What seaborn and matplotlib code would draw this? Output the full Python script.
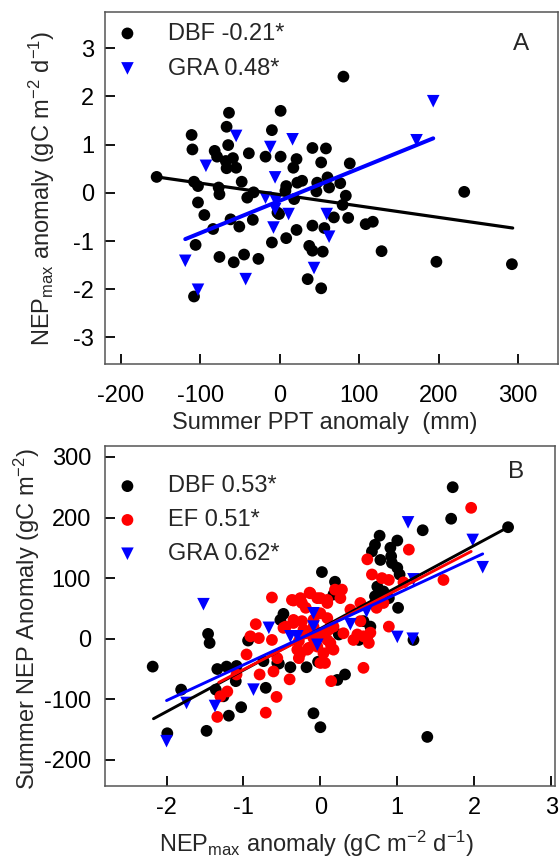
import numpy as np
import pandas as pd
import matplotlib
matplotlib.use("Agg")
import matplotlib.pyplot as plt
import seaborn as sns

# ---------------- Panel A data (Summer PPT anomaly vs NEPmax anomaly) ----------------
a_dbf_ppt = [-64, -67, -111, -110, -65, -82, -79, -68, -59, -67, -55, -39, -155, -108, -103,
             -77, -76, -48, -41, -33, -103, -95, -84, -62, -51, -34, -106, -76, -58, -45,
             -27, -108, 80, 1, -10, -18, 1, 21, 17, 41, 58, 52, 88, 28, 8, 7, 47, 60, 62,
             76, 46, 83, 79, 18, -1, 68, 86, 108, 117, 21, 41, 56, 8, -10, 37, 41, 54, 35,
             52, 128, 232, 197, 292, -3, 22]
a_dbf_nep = [1.66, 1.37, 1.20, 0.90, 0.99, 0.87, 0.75, 0.66, 0.72, 0.51, 0.52, 0.82, 0.33, 0.23,
             0.14, 0.11, -0.03, 0.23, -0.10, 0.01, -0.20, -0.46, -0.75, -0.55, -0.70, -0.56,
             -1.08, -1.33, -1.44, -1.28, -1.37, -2.15, 2.41, 1.70, 1.30, 0.75, 0.75, 0.70, 0.52,
             0.93, 0.92, 0.63, 0.61, 0.25, 0.14, 0.04, 0.21, 0.32, 0.11, 0.20, 0.03, -0.06,
             -0.25, -0.13, -0.44, -0.51, -0.52, -0.65, -0.60, -0.77, -0.68, -0.73, -0.94,
             -1.03, -1.10, -1.20, -1.22, -1.79, -1.98, -1.21, 0.02, -1.43, -1.48, -0.41, 0.21]
a_gra_ppt = [-55, -93, -119, -103, -43, 16, -12, -6, -18, -5, -6, 11, -8, 59, 62, 43, 193, 172]
a_gra_nep = [1.18, 0.56, -1.41, -2.01, -1.79, 1.11, 0.95, 0.32, -0.10, -0.17, -0.34, -0.44,
             -0.72, -0.44, -0.91, -1.56, 1.90, 1.09]
# trend lines
a_fit_dbf_x = [-155, 293]
a_fit_dbf_y = [0.33, -0.73]
a_fit_gra_x = [-119, 193]
a_fit_gra_y = [-0.96, 1.13]
a_xticks = [-200, -100, 0, 100, 200, 300]
a_yticks = [-3, -2, -1, 0, 1, 2, 3]
a_labels = ["DBF -0.21*", "GRA 0.48*"]

# ---------------- Panel B data (NEPmax anomaly vs Summer NEP anomaly) ----------------
b_dbf_x = [0.02, 0.19, -1.46, -1.44, -2.18, -1.81, -1.99, -1.48, -1.34, -1.22, -1.09, -1.10,
           -1.36, -1.19, -1.03, -0.71, -0.48, -0.52, -0.94, -0.56, -0.39, -0.18, -0.09, 0.0,
           0.22, -1.26, -0.74, 1.72, 1.70, 1.33, 2.44, 0.77, 1.00, 0.71, 0.91, 0.67, 0.78,
           0.92, 0.93, 1.00, 1.03, 0.74, 0.82, 0.76, 0.89, 0.71, 1.01, 1.21, 0.56, 0.17,
           -0.03, -0.54, 0.24, 0.24, 0.65, 0.50, 0.61, 0.32, 1.39]
b_dbf_y = [110, 94, 8, -7, -46, -84, -156, -152, -50, -46, -45, -70, -84, -127, -113, -81, 41,
           31, -3, -40, -47, -47, -123, -146, -68, -95, -37, 250, 198, 179, 184, 170, 162, 155,
           150, 144, 130, 136, 125, 117, 106, 86, 78, 75, 67, 70, 51, -2, 29, 73, -38, -41, 7,
           81, 20, -2, 4, -59, -162]
b_ef_x = [-0.63, -0.35, -0.24, -0.14, 0.0, -0.84, -0.91, -0.80, -0.63, -0.48, -0.35, -0.24,
          -0.96, -0.79, -0.61, -0.40, -0.56, -0.28, -0.17, -0.30, 0.0, 0.14, -0.57, -0.71,
          -1.21, -1.30, -1.34, -1.09, 0.13, 0.09, 0.17, -0.09, -0.04, -0.19, 1.96, 1.15, 0.61,
          0.67, 0.80, 0.89, 1.60, 0.28, -0.13, 0.26, 0.09, 0.39, 0.52, 0.73, 0.82, 0.89, 0.52,
          0.65, 0.63, 0.43, 0.17, 0.30, 0.13, -0.09, -0.19, 0.0, -0.37, -0.26, -0.04, 0.09,
          0.19, -0.45, -0.35, -0.22, -0.09, 0.0, 0.11, 0.09, -0.28, -0.26, -0.15, 0.04, 1.08,
          0.48, 0.56, 0.14, 0.06, 0.56]
b_ef_y = [68, 63, 59, 76, 67, 24, 4, 1, -2, 18, 26, 29, -26, -59, -54, -67, -32, -32, -18, -18,
          -40, -70, -96, -122, -87, -95, -129, -59, 20, -2, -18, 1, -13, 9, 216, 147, 131, 106,
          100, 97, 97, 81, 75, 67, 59, 48, 59, 51, 59, 20, 29, 10, -7, -2, 20, 9, -7, 31, 51,
          42, 64, 67, 67, 64, 81, 20, 31, 15, 20, 9, 15, 34, -4, -24, -15, -24, 93, 7, 4, -15,
          -40, -48]
b_gra_x = [-1.52, -0.67, -0.09, -0.09, -0.39, -0.30, -0.04, -0.87, -1.37, -1.74, -2.0, 1.14,
           1.98, 2.11, 1.21, 1.00, 1.20, 0.39, 0.60]
b_gra_y = [57, 18, 42, 20, 4, 4, -10, -84, -111, -106, -169, 192, 163, 118, 98, 3, 0, 24, 45]
b_fit_dbf_x = [-2.17, 2.44]
b_fit_dbf_y = [-132, 184]
b_fit_ef_x = [-1.32, 1.96]
b_fit_ef_y = [-72, 144]
b_fit_gra_x = [-2.0, 2.11]
b_fit_gra_y = [-102, 140]
b_xticks = [-2, -1, 0, 1, 2, 3]
b_yticks = [-200, -100, 0, 100, 200, 300]
b_labels = ["DBF 0.53*", "EF 0.51*", "GRA 0.62*"]

# ---------------- styling ----------------
sns.set_theme(style="ticks")
plt.rcParams["font.family"] = ["Liberation Sans", "DejaVu Sans"]
plt.rcParams["mathtext.fontset"] = "custom"
plt.rcParams["mathtext.rm"] = "Liberation Sans"
plt.rcParams["mathtext.it"] = "Liberation Sans:italic"
plt.rcParams["mathtext.default"] = "regular"
plt.rcParams["axes.unicode_minus"] = False

FS = 17
BLACK, BLUE, RED = "#000000", "#0000FF", "#FF0000"
MS = 72
MT = 82

fig = plt.figure(figsize=(5.6, 8.6), dpi=100)
axA = fig.add_axes([105 / 560, 1 - 364 / 860, 453 / 560, 352 / 860])
axB = fig.add_axes([105 / 560, 1 - 786 / 860, 450 / 560, 340 / 860])


def style_axes(ax, xpad, ypad):
    for s in ax.spines.values():
        s.set_color("#555555")
        s.set_linewidth(1.1)
        s.set_visible(True)
    ax.tick_params(axis="both", direction="in", length=7, width=1.3, color="black",
                   labelsize=FS, top=False, right=False, labelcolor="black")
    ax.tick_params(axis="x", pad=xpad)
    ax.tick_params(axis="y", pad=ypad)
    ax.grid(False)


# ---- Panel A ----
dfa1 = pd.DataFrame({"x": a_dbf_ppt, "y": a_dbf_nep})
dfa2 = pd.DataFrame({"x": a_gra_ppt, "y": a_gra_nep})
sns.scatterplot(data=dfa1, x="x", y="y", ax=axA, color=BLACK, marker="o", s=MS,
                edgecolor="none", label=a_labels[0], zorder=3)
sns.scatterplot(data=dfa2, x="x", y="y", ax=axA, color=BLUE, marker="v", s=MT,
                edgecolor="none", label=a_labels[1], zorder=4)
sns.lineplot(x=a_fit_dbf_x, y=a_fit_dbf_y, ax=axA, color=BLACK, lw=2.3, zorder=5,
             legend=False)
sns.lineplot(x=a_fit_gra_x, y=a_fit_gra_y, ax=axA, color=BLUE, lw=2.9, zorder=6,
             legend=False)
axA.set_xlim(-220, 350)
axA.set_ylim(-3.55, 3.75)
axA.set_xticks(a_xticks)
axA.set_yticks(a_yticks)
style_axes(axA, xpad=15, ypad=8)
axA.set_xlabel("Summer PPT anomaly  (mm)", fontsize=FS)
axA.set_ylabel("NEP$_{max}$ anomaly (gC m$^{-2}$ d$^{-1}$)", fontsize=FS)
axA.xaxis.set_label_coords(0.485, -0.135)
axA.yaxis.set_label_coords(-0.105, 0.5)
axA.text(0.918, 0.91, "A", transform=axA.transAxes, fontsize=FS + 0.5,
         ha="center", va="center")
axA.legend(loc="upper left", frameon=False, fontsize=FS, handlelength=1.0,
           handletextpad=1.2, labelspacing=0.55, borderaxespad=0.1, borderpad=0.35)

# ---- Panel B ----
dfb1 = pd.DataFrame({"x": b_dbf_x, "y": b_dbf_y})
dfb2 = pd.DataFrame({"x": b_ef_x, "y": b_ef_y})
dfb3 = pd.DataFrame({"x": b_gra_x, "y": b_gra_y})
sns.scatterplot(data=dfb1, x="x", y="y", ax=axB, color=BLACK, marker="o", s=MS,
                edgecolor="none", label=b_labels[0], zorder=3)
sns.scatterplot(data=dfb2, x="x", y="y", ax=axB, color=RED, marker="o", s=MS,
                edgecolor="none", label=b_labels[1], zorder=4)
sns.scatterplot(data=dfb3, x="x", y="y", ax=axB, color=BLUE, marker="v", s=MT,
                edgecolor="none", label=b_labels[2], zorder=5)
sns.lineplot(x=b_fit_dbf_x, y=b_fit_dbf_y, ax=axB, color=BLACK, lw=2.1, zorder=6,
             legend=False)
sns.lineplot(x=b_fit_ef_x, y=b_fit_ef_y, ax=axB, color=RED, lw=2.1, zorder=7,
             legend=False)
sns.lineplot(x=b_fit_gra_x, y=b_fit_gra_y, ax=axB, color=BLUE, lw=2.1, zorder=8,
             legend=False)
axB.set_xlim(-2.8, 3.05)
axB.set_ylim(-243, 318)
axB.set_xticks(b_xticks)
axB.set_yticks(b_yticks)
style_axes(axB, xpad=8, ypad=10)
axB.set_xlabel("NEP$_{max}$ anomaly (gC m$^{-2}$ d$^{-1}$)", fontsize=FS)
axB.set_ylabel("Summer NEP Anomaly (gC m$^{-2}$)", fontsize=FS)
axB.xaxis.set_label_coords(0.47, -0.125)
axB.yaxis.set_label_coords(-0.14, 0.49)
axB.text(0.913, 0.924, "B", transform=axB.transAxes, fontsize=FS + 0.5,
         ha="center", va="center")
axB.legend(loc="upper left", bbox_to_anchor=(0.0, 0.945), frameon=False, fontsize=FS,
           handlelength=1.0, handletextpad=1.2, labelspacing=0.5, borderaxespad=0.1,
           borderpad=0.35)

fig.savefig("out.png", dpi=100)
